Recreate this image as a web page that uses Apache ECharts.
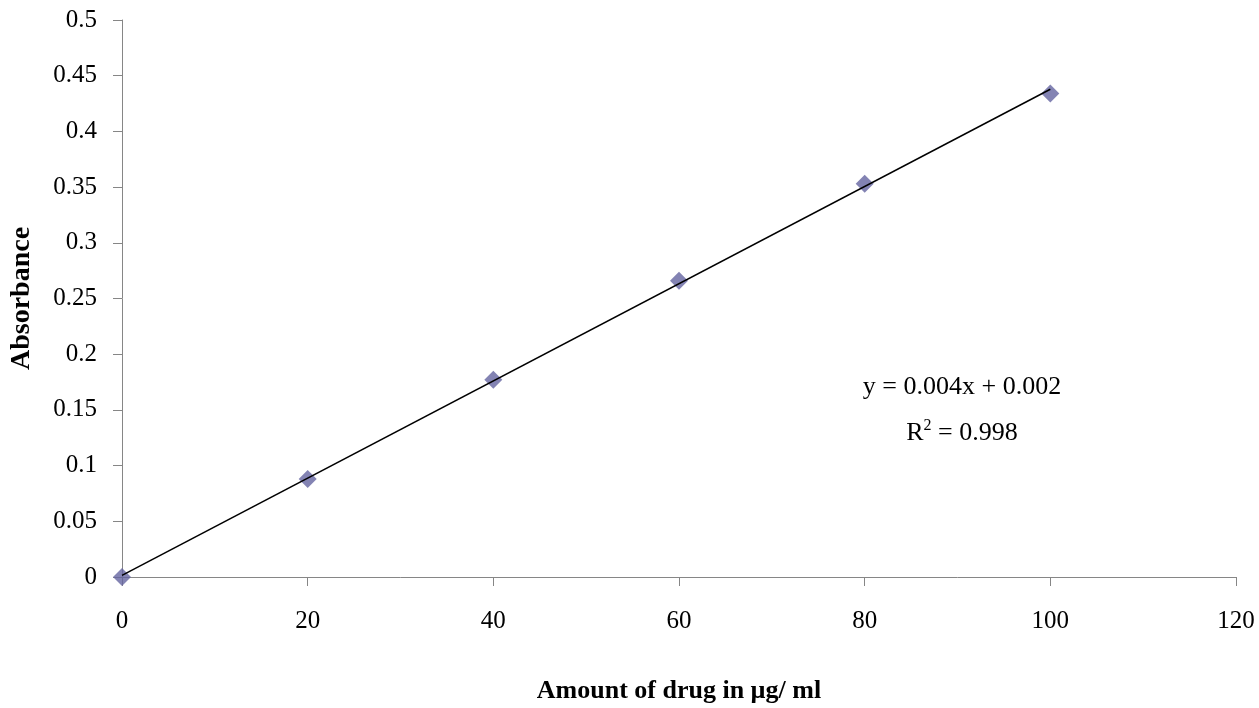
<!DOCTYPE html>
<html>
<head>
<meta charset="utf-8">
<script src="https://cdn.jsdelivr.net/npm/echarts@6/dist/echarts.min.js"></script>
<style>
  html, body { margin: 0; padding: 0; background: #fff; }
  #container { width: 1259px; height: 708px; }
</style>
</head>
<body>
<div id="container"></div>
<script>
// concentration (µg/ml) and absorbance
var conc = [0, 20, 40, 60, 80, 100];
var absorbance = [0, 0.088, 0.177, 0.266, 0.353, 0.434];
var equationText = 'y = 0.004x + 0.002';
var r2Text = '0.998';

// least squares line through the points (the trendline)
function fitLine(xs, ys) {
    var n = xs.length, sx = 0, sy = 0, sxy = 0, sxx = 0;
    for (var i = 0; i < n; i++) {
        sx += xs[i]; sy += ys[i];
        sxy += xs[i] * ys[i]; sxx += xs[i] * xs[i];
    }
    var b = (n * sxy - sx * sy) / (n * sxx - sx * sx);
    var a = (sy - b * sx) / n;
    return { a: a, b: b };
}
var fit = fitLine(conc, absorbance);
var xFirst = conc[0], xLast = conc[conc.length - 1];
var trend = [[xFirst, fit.a + fit.b * xFirst], [xLast, fit.a + fit.b * xLast]];

var points = [];
for (var i = 0; i < conc.length; i++) {
    points.push([conc[i], absorbance[i]]);
}

var dom = document.getElementById("container");
var myChart = echarts.init(dom);
var font = '"Liberation Serif", "Times New Roman", serif';
var axisGrey = '#868686';

var option = {
    animation: false,
    textStyle: { fontFamily: font },
    grid: { left: 122, right: 23, top: 20, bottom: 131, outerBoundsMode: 'none', containLabel: false },
    xAxis: {
        type: 'value',
        min: 0, max: 120, interval: 20,
        name: 'Amount of drug in µg/ ml',
        nameLocation: 'middle',
        nameGap: 101,
        nameTextStyle: { fontFamily: font, fontSize: 26, fontWeight: 'bold', color: '#000' },
        axisLine: { show: true, lineStyle: { color: axisGrey, width: 1 } },
        axisTick: { show: true, length: 9, lineStyle: { color: axisGrey } },
        axisLabel: { fontFamily: font, fontSize: 25, color: '#000', margin: 32 },
        splitLine: { show: false }
    },
    yAxis: {
        type: 'value',
        min: 0, max: 0.5, interval: 0.05,
        name: 'Absorbance',
        nameLocation: 'middle',
        nameGap: 86,
        nameRotate: 90,
        nameTextStyle: { fontFamily: font, fontSize: 28, fontWeight: 'bold', color: '#000' },
        axisLine: { show: true, lineStyle: { color: axisGrey, width: 1 } },
        axisTick: { show: true, length: 9, lineStyle: { color: axisGrey } },
        axisLabel: { fontFamily: font, fontSize: 25, color: '#000', margin: 25 },
        splitLine: { show: false }
    },
    series: [
        {
            type: 'line',
            data: trend,
            symbol: 'none',
            lineStyle: { color: '#000', width: 1.5 },
            z: 3
        },
        {
            type: 'scatter',
            data: points,
            symbol: 'diamond',
            symbolSize: [18, 18],
            itemStyle: { color: '#6464a0' },
            z: 2
        }
    ],
    graphic: [
        {
            type: 'text',
            x: 962, y: 387,
            style: {
                text: equationText,
                font: '26px ' + font,
                fill: '#000',
                align: 'center',
                verticalAlign: 'middle'
            }
        },
        {
            type: 'text',
            x: 962, y: 433,
            style: {
                text: '{n|R}{s|2}{n| = ' + r2Text + '}',
                align: 'center',
                verticalAlign: 'middle',
                rich: {
                    n: { fontFamily: font, fontSize: 26, lineHeight: 30, fill: '#000' },
                    s: { fontFamily: font, fontSize: 16, lineHeight: 16, fill: '#000', verticalAlign: 'top' }
                }
            }
        }
    ]
};
myChart.setOption(option, true);
</script>
</body>
</html>
